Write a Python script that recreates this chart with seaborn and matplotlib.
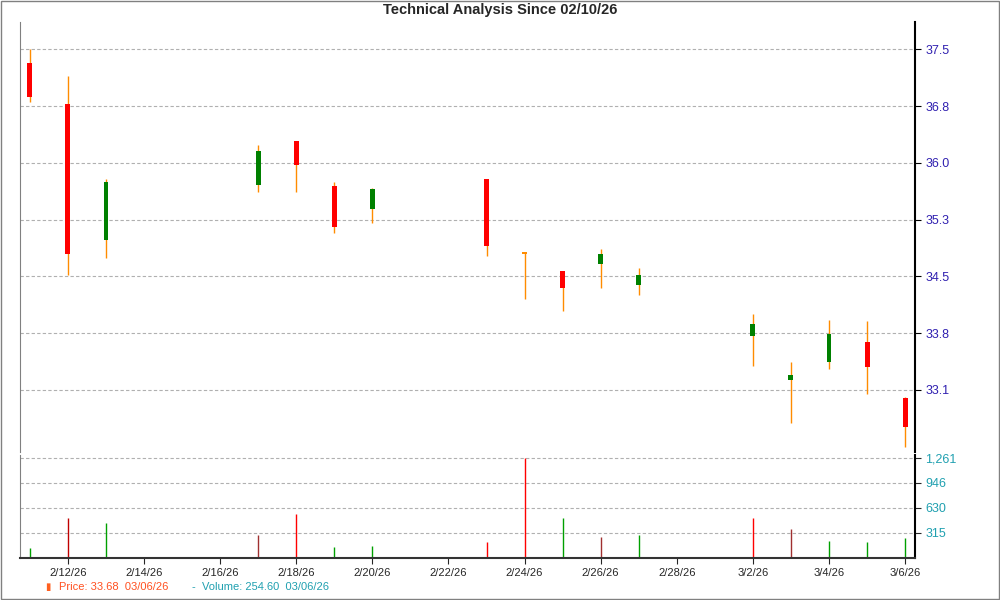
import numpy as np
import pandas as pd
import matplotlib
matplotlib.use("Agg")
import matplotlib.pyplot as plt
import matplotlib.dates as mdates
import seaborn as sns

dates = ["2026-02-11","2026-02-12","2026-02-13","2026-02-17","2026-02-18","2026-02-19","2026-02-20",
         "2026-02-23","2026-02-24","2026-02-25","2026-02-26","2026-02-27","2026-03-02","2026-03-03",
         "2026-03-04","2026-03-05","2026-03-06"]
opens  = [37.32,36.79,35.04,35.75,36.31,35.74,35.44,35.82,34.86,34.63,34.72,34.46,33.79,33.23,33.46,33.72,33.00]
closes = [36.89,34.85,35.79,36.19,36.01,35.21,35.70,34.96,34.86,34.42,34.85,34.58,33.95,33.29,33.82,33.40,32.62]
highs  = [37.50,37.16,35.83,36.27,36.31,35.78,35.71,35.82,34.88,34.64,34.92,34.68,34.08,33.46,34.00,33.99,33.01]
lows   = [36.82,34.58,34.80,35.65,35.66,35.13,35.25,34.83,34.28,34.12,34.42,34.32,33.41,32.67,33.37,33.05,32.36]
volumes = [129,498,446,292,549,137,150,201,1261,510,266,292,498,369,214,201,254.6]
vol_colors = ["#00a000","#c00000","#00a000","#a03030","#ff0000","#00a000","#00a000","#ff0000","#ff0000",
              "#00a000","#a03030","#00a000","#ff0000","#a03030","#00a000","#00a000","#00a000"]
price_ticks = [33.1,33.833,34.567,35.3,36.033,36.767,37.5]
price_labels = ["33.1","33.8","34.5","35.3","36.0","36.8","37.5"]
vol_ticks = [315,630,946,1261]
vol_labels = ["315","630","946","1,261"]

df = pd.DataFrame({"date": pd.to_datetime(dates), "open": opens, "close": closes,
                   "high": highs, "low": lows, "volume": volumes})

sns.set_style("white")
plt.rcParams['font.family'] = ['Liberation Sans', 'DejaVu Sans']
fig = plt.figure(figsize=(10, 6), dpi=100)
ax = fig.add_axes([0.02, 0.247, 0.895, 0.716])
axv = fig.add_axes([0.02, 0.07, 0.895, 0.172], sharex=ax)

x = mdates.date2num(df["date"])
ax.vlines(x, df["low"], df["high"], color="#ff8c00", lw=1, zorder=2)
up = df["close"] >= df["open"]
bottoms = np.minimum(df["open"], df["close"])
heights = np.maximum(np.abs(df["close"] - df["open"]), 0.015)
ax.bar(x, heights, bottom=bottoms, width=0.13,
       color=np.where(df["close"] > df["open"], "#008000", np.where(df["close"] < df["open"], "#ff0000", "#ff8c00")),
       edgecolor="none", zorder=3)
ax.set_ylim(32.3, 37.85)
ax.set_yticks(price_ticks)
ax.set_yticklabels(price_labels)
ax.yaxis.tick_right()
ax.tick_params(axis="y", colors="#2020a0", labelsize=9, length=4, direction="out", labelcolor="#3030b0")
ax.tick_params(axis="y", colors="black")
for t in ax.get_yticklabels():
    t.set_color("#3020b0")
ax.grid(axis="y", color="#b0b0b0", ls=(0, (3, 2)), lw=0.8)
ax.tick_params(axis="x", bottom=False, labelbottom=False)

axv.vlines(x, 0, df["volume"], colors=vol_colors, lw=1)
axv.set_ylim(0, 1300)
axv.set_yticks(vol_ticks)
axv.set_yticklabels(vol_labels)
axv.yaxis.tick_right()
axv.tick_params(axis="y", labelsize=9, length=4, direction="out")
for t in axv.get_yticklabels():
    t.set_color("#20a0b0")
axv.grid(axis="y", color="#b0b0b0", ls=(0, (3, 2)), lw=0.8)

start = mdates.date2num(pd.Timestamp("2026-02-11"))
axv.set_xlim(start - 0.26, start + 23.26)
axv.xaxis.set_major_locator(mdates.DayLocator(bymonthday=[2,4,6,8,10,12,14,16,18,20,22,24,26,28]))
axv.xaxis.set_major_formatter(mdates.DateFormatter("%-m/%-d/%y"))
axv.tick_params(axis="x", labelsize=8, bottom=True, length=4, direction="out")

for a in (ax, axv):
    for s in ("top",):
        a.spines[s].set_visible(False)
    a.spines["left"].set_color("#808080")
    a.spines["right"].set_color("black")
    a.spines["right"].set_linewidth(1.5)
ax.spines["bottom"].set_visible(False)
axv.spines["bottom"].set_linewidth(1.5)
axv.spines["bottom"].set_color("#333333")

fig.text(0.5, 0.983, "Technical Analysis Since 02/10/26", ha="center", va="center",
         fontsize=10.5, fontweight="bold")
fig.text(0.045, 0.022, "▮", color="#ff6020", fontsize=7, va="center")
fig.text(0.059, 0.022, "Price: 33.68  03/06/26", color="#ff5020", fontsize=8, va="center")
fig.text(0.192, 0.022, "-  Volume: 254.60  03/06/26", color="#20a0b0", fontsize=8, va="center")
fig.patches.append(plt.Rectangle((0.001, 0.001), 0.998, 0.998, transform=fig.transFigure,
                                 fill=False, edgecolor="#808080", lw=1))
fig.savefig("out.png", dpi=100)
